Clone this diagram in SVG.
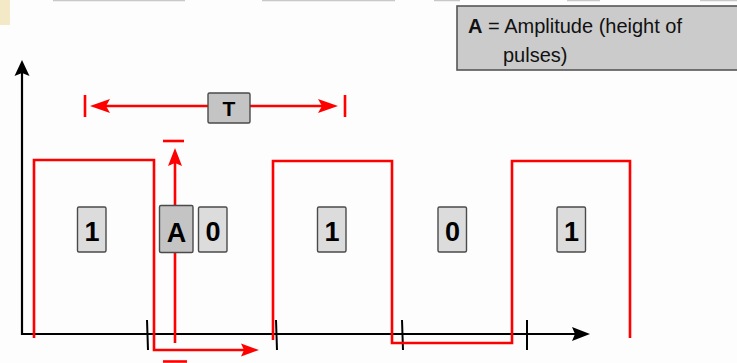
<svg xmlns="http://www.w3.org/2000/svg" width="737" height="363" viewBox="0 0 737 363">
  <style>
    .bg { fill: #fdfdfd; }
    .axis { stroke: #000; stroke-width: 2.2; fill: none; }
    .tick { stroke: #000; stroke-width: 2; fill: none; }
    .wave { stroke: #ff0000; stroke-width: 2.6; fill: none; stroke-linejoin: miter; }
    .red { stroke: #ff0000; stroke-width: 2.6; fill: none; }
    .redfill { fill: #ff0000; }
    .blackfill { fill: #000; }
    .lbl { fill: #dcdcdc; stroke: #4a4a4a; stroke-width: 1.4; }
    .lblA { fill: #c4c4c4; stroke: #4a4a4a; stroke-width: 1.4; }
    .lt { font-family: "Liberation Sans", Arial, sans-serif; font-weight: bold; font-size: 27px; fill: #000; text-anchor: middle; }
    .legend { fill: #cbcbcb; stroke: #555; stroke-width: 1.6; }
    .legt { font-family: "Liberation Sans", Arial, sans-serif; font-size: 20px; fill: #111; }
    .top { stroke: #c8c8c8; stroke-width: 1.5; }
  </style>
  <rect class="bg" x="0" y="0" width="737" height="363"/>
  <rect x="0" y="0" width="10" height="25" fill="#f3e9c6"/>
  <g id="title-fragments">
    <line class="top" x1="53" y1="0.5" x2="185" y2="0.5"/>
    <line class="top" x1="262" y1="0.5" x2="395" y2="0.5"/>
    <line class="top" x1="434" y1="0.5" x2="460" y2="0.5"/>
    <line class="top" x1="567" y1="0.5" x2="600" y2="0.5"/>
    <line class="top" x1="700" y1="0.5" x2="737" y2="0.5"/>
  </g>

  <g id="legend">
    <rect class="legend" x="457" y="6" width="290" height="64"/>
    <text class="legt" x="468" y="33"><tspan font-weight="bold">A</tspan> = Amplitude (height of</text>
    <text class="legt" x="503" y="62">pulses)</text>
  </g>

  <g id="connectors">
    <!-- axes -->
    <path class="axis" d="M22,72 V334 H576"/>
    <path class="blackfill" d="M22,60 L29.5,76 L22,73 L14.5,76 Z"/>
    <path class="blackfill" d="M590,334 L572,327 L575,334 L572,341 Z"/>
    <!-- ticks -->
    <line class="tick" x1="147" y1="320" x2="148" y2="350"/>
    <line class="tick" x1="276" y1="320" x2="277" y2="350"/>
    <line class="tick" x1="402" y1="320" x2="403" y2="350"/>
    <line class="tick" x1="527" y1="320" x2="527" y2="350"/>
    <!-- signal waveform -->
    <path class="wave" d="M34,338 V160 H154 V350 H246"/>
    <path class="redfill" d="M259,350 L241,343.5 L244,350 L241,356.5 Z"/>
    <path class="wave" d="M273,340 V161 H392 V343 H512 V161 H630 V338"/>
    <!-- T period arrow -->
    <line class="red" x1="85" y1="95" x2="85" y2="117"/>
    <line class="red" x1="345" y1="95" x2="345" y2="117"/>
    <line class="red" x1="100" y1="106" x2="208" y2="106"/>
    <line class="red" x1="250" y1="106" x2="328" y2="106"/>
    <path class="redfill" d="M90,106 L110,99 L106,106 L110,113 Z"/>
    <path class="redfill" d="M338,106 L318,99 L322,106 L318,113 Z"/>
    <!-- A amplitude arrow -->
    <line class="red" x1="175" y1="160" x2="175" y2="343"/>
    <path class="redfill" d="M175,148 L182,166 L175,163 L168,166 Z"/>
    <line class="red" x1="163" y1="141" x2="184" y2="141"/>
    <line class="red" x1="163" y1="361.5" x2="187" y2="361.5"/>
  </g>

  <g id="label-T">
    <rect class="lblA" x="208" y="93" width="42" height="30" rx="1.5"/>
    <text class="lt" x="229" y="116" style="font-size:21px">T</text>
  </g>
  <g id="label-1a">
    <rect class="lbl" x="77.5" y="207" width="28.5" height="45" rx="1.5"/>
    <text class="lt" x="92" y="241">1</text>
  </g>
  <g id="label-A">
    <rect class="lblA" x="159.5" y="205.5" width="33.5" height="47" rx="1.5"/>
    <text class="lt" x="176.5" y="242">A</text>
  </g>
  <g id="label-0a">
    <rect class="lbl" x="198.5" y="207" width="28.5" height="45" rx="1.5"/>
    <text class="lt" x="213" y="241">0</text>
  </g>
  <g id="label-1b">
    <rect class="lbl" x="317.5" y="207" width="28.5" height="45" rx="1.5"/>
    <text class="lt" x="332" y="241">1</text>
  </g>
  <g id="label-0b">
    <rect class="lbl" x="438" y="207" width="28.5" height="45" rx="1.5"/>
    <text class="lt" x="452.5" y="241">0</text>
  </g>
  <g id="label-1c">
    <rect class="lbl" x="557" y="207" width="28.5" height="45" rx="1.5"/>
    <text class="lt" x="571.5" y="241">1</text>
  </g>
</svg>
